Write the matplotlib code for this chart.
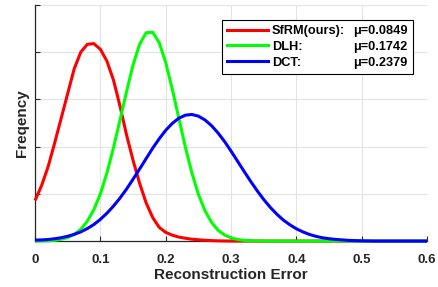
import numpy as np
import matplotlib
matplotlib.use("Agg")
import matplotlib.pyplot as plt
from matplotlib.lines import Line2D

plt.rcParams['font.family'] = ['Liberation Sans', 'DejaVu Sans']
plt.rcParams['font.weight'] = 'bold'

# reconstruction error grid (sample positions read along the x axis)
err = [i / 100 for i in range(61)]

sfrm = [1.72, 2.35, 3.15, 4.15, 5.20, 6.25, 7.30, 8.00, 8.33, 8.36,
        8.12, 7.62, 6.82, 5.72, 4.50, 3.42, 2.45, 1.62, 1.00, 0.58,
        0.37, 0.25, 0.17, 0.12, 0.08, 0.055, 0.035, 0.02, 0.01, 0.005,
        0.0, 0.0, 0.0, 0.0, 0.0, 0.0, 0.0, 0.0, 0.0, 0.0,
        0.0, 0.0, 0.0, 0.0, 0.0, 0.0, 0.0, 0.0, 0.0, 0.0,
        0.0, 0.0, 0.0, 0.0, 0.0, 0.0, 0.0, 0.0, 0.0, 0.0, 0.0]

dlh = [0.0, 0.005, 0.01, 0.03, 0.08, 0.15, 0.28, 0.50, 0.84, 1.33,
       2.00, 2.88, 3.95, 5.12, 6.32, 7.46, 8.33, 8.82, 8.84, 8.40,
       7.56, 6.44, 5.21, 3.99, 2.89, 1.98, 1.29, 0.80, 0.46, 0.26,
       0.13, 0.07, 0.03, 0.015, 0.005, 0.0, 0.0, 0.0, 0.0, 0.0,
       0.0, 0.0, 0.0, 0.0, 0.0, 0.0, 0.0, 0.0, 0.0, 0.0,
       0.0, 0.0, 0.0, 0.0, 0.0, 0.0, 0.0, 0.0, 0.0, 0.0, 0.0]

dct = [0.04, 0.05, 0.066, 0.098, 0.142, 0.204, 0.286, 0.39, 0.53, 0.70,
       0.92, 1.18, 1.48, 1.82, 2.20, 2.62, 3.05, 3.49, 3.93, 4.33,
       4.69, 4.98, 5.20, 5.33, 5.36, 5.29, 5.13, 4.89, 4.58, 4.22,
       3.81, 3.38, 2.95, 2.53, 2.13, 1.76, 1.43, 1.14, 0.89, 0.69,
       0.52, 0.39, 0.28, 0.20, 0.14, 0.10, 0.07, 0.05, 0.03, 0.02,
       0.01, 0.005, 0.0, 0.0, 0.0, 0.0, 0.0, 0.0, 0.0, 0.0, 0.0]

names = ['SfRM(ours):', 'DLH:', 'DCT:']
means = ['0.0849', '0.1742', '0.2379']
colors = ['#ff0000', '#00ff00', '#0000ff']

axis_col = '#262626'

fig = plt.figure(figsize=(4.38, 2.87), dpi=100)
ax = fig.add_axes([0.080, 0.160, 0.895, 0.823])

for ys, c in zip([sfrm, dlh, dct], colors):
    ax.plot(err, ys, color=c, lw=2.2, solid_capstyle='butt',
            solid_joinstyle='round', clip_on=False, zorder=3)

ax.set_xlim(0, 0.6)
ax.set_ylim(0, 10)
ax.set_xticks([0, 0.1, 0.2, 0.3, 0.4, 0.5, 0.6])
ax.set_xticklabels(['0', '0.1', '0.2', '0.3', '0.4', '0.5', '0.6'])
ax.set_yticks([0, 2, 4, 6, 8, 10])
ax.set_yticklabels([])
ax.grid(True, color='#e3e3e3', lw=0.8)
ax.set_axisbelow(True)
for s in ['top', 'right']:
    ax.spines[s].set_visible(False)
for s in ['left', 'bottom']:
    ax.spines[s].set_color(axis_col)
    ax.spines[s].set_linewidth(0.9)
ax.tick_params(direction='in', length=3.5, width=0.8, colors=axis_col,
               labelsize=9.5, pad=9)
for lab in ax.get_xticklabels():
    lab.set_fontweight('bold')

ax.set_xlabel('Reconstruction Error', fontsize=11, fontweight='bold',
              color=axis_col, labelpad=1.5)
ax.set_ylabel('Freqency', fontsize=11, fontweight='bold',
              color=axis_col, labelpad=-5)

handles = [Line2D([], [], color=c, lw=2.2) for c in colors]
blanks = [Line2D([], [], color='none') for _ in colors]
labels = names + ['\u03bc=' + m for m in means]
leg = ax.legend(handles + blanks, labels, ncol=2, loc='upper right',
                bbox_to_anchor=(0.964, 0.936), borderaxespad=0,
                fontsize=9.2, frameon=True, fancybox=False,
                edgecolor='black', framealpha=1,
                handlelength=3.2, handletextpad=0.3, columnspacing=-2.87,
                labelspacing=0.3, borderpad=0.4)
leg.get_frame().set_linewidth(0.8)
for t in leg.get_texts():
    t.set_fontweight('bold')

fig.savefig('out.png', dpi=100)
